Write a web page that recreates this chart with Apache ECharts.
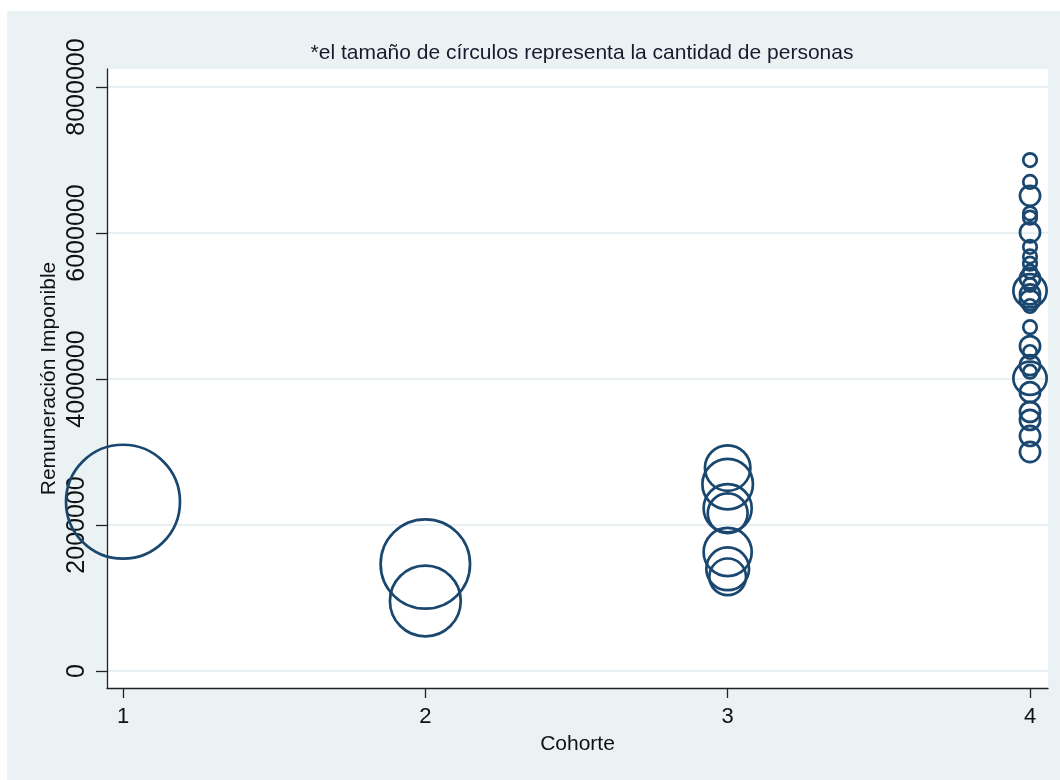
<!DOCTYPE html>
<html>
<head>
<meta charset="utf-8">
<script src="https://cdn.jsdelivr.net/npm/echarts@6/dist/echarts.min.js"></script>
<style>
  html, body { margin: 0; padding: 0; background: #ffffff; }
  #chart { position: absolute; left: 7px; top: 11px; width: 1053px; height: 769px; }
</style>
</head>
<body>
<div id="chart"></div>
<script>
// remuneración imponible por cohorte, y cantidad de personas (tamaño del círculo)
var rem1 = [2319000];
var per1 = [53];
var rem2 = [1466000, 959000];
var per2 = [33, 21];
var rem3 = [2780000, 2560000, 2230000, 2160000, 1630000, 1400000, 1290000];
var per3 = [9, 11, 10, 7, 10, 8, 6];
var rem4 = [7000000, 6700000, 6510000, 6270000, 6210000, 6010000, 5810000, 5680000, 5580000,
  5470000, 5380000, 5290000, 5210000, 5160000, 5080000, 5000000, 4710000, 4450000, 4370000,
  4190000, 4100000, 4010000, 3820000, 3550000, 3440000, 3220000, 3000000];
var per4 = [1, 1, 2, 1, 1, 2, 1, 1, 1, 1, 2, 1, 5, 2, 2, 1, 1, 2, 1, 2, 1, 5, 2, 2, 2, 2, 2];
var yTicks = [0, 2000000, 4000000, 6000000, 8000000];
var xTicks = [1, 2, 3, 4];

var points = [];
[[1, rem1, per1], [2, rem2, per2], [3, rem3, per3], [4, rem4, per4]].forEach(function (c) {
  c[1].forEach(function (v, i) { points.push([c[0], v, c[2][i]]); });
});

var font = 'Liberation Sans, Arial, sans-serif';
var axisCol = '#222222';

var chart = echarts.init(document.getElementById('chart'));
var option = {
  backgroundColor: '#eaf2f3',
  animation: false,
  title: {
    text: '*el tamaño de círculos representa la cantidad de personas',
    left: 570, top: 27, textAlign: 'center',
    textStyle: { fontFamily: font, fontSize: 21, fontWeight: 'normal', color: '#1a1a2e' }
  },
  grid: {
    left: 100, top: 58, right: 12, bottom: 92,
    show: true, backgroundColor: '#ffffff', borderWidth: 0
  },
  xAxis: {
    type: 'value',
    min: 0.9471, max: 4.0595,
    name: 'Cohorte', nameLocation: 'middle', nameGap: 46,
    nameTextStyle: { fontFamily: font, fontSize: 21, color: '#111' },
    axisLine: { show: true, onZero: false, lineStyle: { color: axisCol, width: 1.3 } },
    axisTick: { show: true, length: 10, customValues: xTicks, lineStyle: { color: axisCol, width: 1.3 } },
    axisLabel: { customValues: xTicks, margin: 18, fontFamily: font, fontSize: 22, color: '#111' },
    splitLine: { show: false }
  },
  yAxis: {
    type: 'value',
    min: -232900, max: 8247000,
    name: 'Remuneración Imponible', nameLocation: 'middle', nameGap: 47, nameRotate: 90,
    nameMoveOverlap: false,
    nameTextStyle: { fontFamily: font, fontSize: 21, color: '#111' },
    axisLine: { show: true, onZero: false, lineStyle: { color: axisCol, width: 1.3 } },
    axisTick: { show: true, length: 11, customValues: yTicks, lineStyle: { color: axisCol, width: 1.3 } },
    axisLabel: {
      customValues: yTicks, rotate: 90, margin: 17, fontFamily: font, fontSize: 25, color: '#111',
      formatter: function (v) { return String(v); }
    },
    splitLine: { show: true, lineStyle: { color: '#e6eff1', width: 2 } }
  },
  series: [{
    type: 'scatter',
    clip: false,
    data: points,
    symbol: 'circle',
    symbolSize: function (d) { return 16 * Math.sqrt(d[2]) - 2.5; },
    itemStyle: { color: 'rgba(0,0,0,0)', borderColor: '#1a476f', borderWidth: 2.7, opacity: 1 }
  }]
};
chart.setOption(option);
window.addEventListener('resize', function () { chart.resize(); });
</script>
</body>
</html>
